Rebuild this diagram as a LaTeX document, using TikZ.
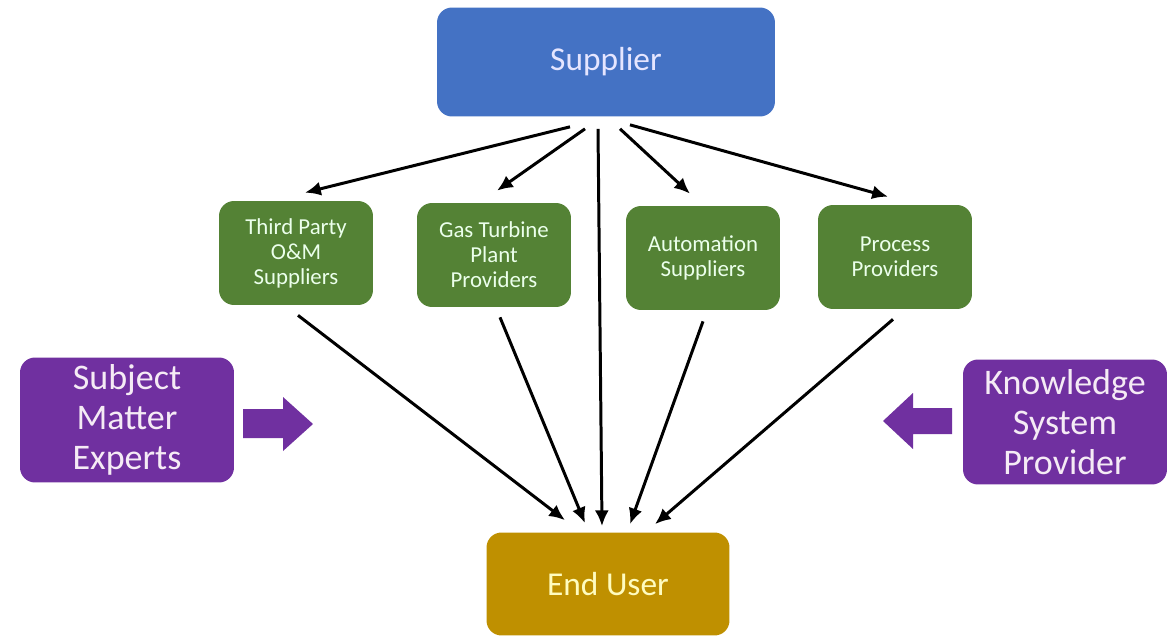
\documentclass[tikz,border=0pt]{standalone}
\usepackage{fontspec}
\setmainfont{Carlito}
\usepackage{tikz}
\usetikzlibrary{positioning}
\usetikzlibrary{arrows.meta}
\definecolor{supBlue}{HTML}{4472C4}
\definecolor{provGreen}{HTML}{548235}
\definecolor{helpPurple}{HTML}{7030A0}
\definecolor{userGold}{HTML}{BF9000}
\tikzset{
  box/.style = {rounded corners = 0.3cm, align = center, inner sep = 0pt},
  provider/.style = {box, fill = provGreen, text = green!8, minimum width = 3.08cm, minimum height = 2.08cm,
    font = \fontsize{13}{14.2}\selectfont},
  helper/.style = {box, fill = helpPurple, text = violet!8, minimum height = 2.5cm,
    font = \fontsize{20.5}{22.7}\selectfont},
  link/.style = {-{Latex[length = 9pt, width = 8pt]}, line width = 1.7pt}
}

\begin{document}
\begin{tikzpicture}[x = 0.02cm, y = -0.02cm]
                \useasboundingbox (0,0) rectangle (1167,636);
                % top and bottom
                \node [box, fill = supBlue, text = blue!10, minimum width = 6.76cm, minimum height = 2.18cm,
                  font = \fontsize{19}{22}\selectfont] (sup) at (606,62) {Supplier};
                \node [box, fill = userGold, text = yellow!25, minimum width = 4.86cm, minimum height = 2.06cm,
                  font = \fontsize{19}{22}\selectfont] (eu) at (608,584) {End User};
                % providers
                \node [provider] (tp) at (296,253) {Third Party\\O\&M\\Suppliers};
                \node [provider] (gt) at (494,255) {Gas Turbine\\Plant\\Providers};
                \node [provider] (au) at (703,258) {Automation\\Suppliers};
                \node [provider] (pp) at (895,257) {Process\\Providers};
                % side boxes
                \node [helper, minimum width = 4.28cm] (sme) at (127,420) {Subject\\Matter\\Experts};
                \node [helper, minimum width = 4.08cm] (ksp) at (1065,422) {Knowledge\\System\\Provider};
                \fill [helpPurple] (243,409) -- (283,409) -- (283,397) -- (313,424) -- (283,451) -- (283,438) -- (243,438) -- cycle;
                \fill [helpPurple] (952,408) -- (913,408) -- (913,393) -- (883,421) -- (913,449) -- (913,434) -- (952,434) -- cycle;
                % supplier to providers
                \draw [link] ([xshift = -0.72cm, yshift = -0.2cm]sup.south) -- ([xshift = 0.18cm, yshift = 0.16cm]tp.north);
                \draw [link] ([xshift = -0.42cm, yshift = -0.24cm]sup.south) -- ([xshift = 0.06cm, yshift = 0.24cm]gt.north);
                \draw [link] ([xshift = -0.16cm, yshift = -0.24cm]sup.south) -- ([xshift = -0.12cm, yshift = 0.12cm]eu.north);
                \draw [link] ([xshift = 0.28cm, yshift = -0.24cm]sup.south) -- ([xshift = -0.26cm, yshift = 0.24cm]au.north);
                \draw [link] ([xshift = 0.48cm, yshift = -0.16cm]sup.south) -- ([xshift = -0.14cm, yshift = 0.16cm]pp.north);
                % providers to end user
                \draw [link] ([xshift = 0.04cm, yshift = -0.2cm]tp.south) -- ([xshift = -0.86cm, yshift = 0.24cm]eu.north);
                \draw [link] ([xshift = 0.12cm, yshift = -0.2cm]gt.south) -- ([xshift = -0.46cm, yshift = 0.18cm]eu.north);
                \draw [link] ([yshift = -0.22cm]au.south) -- ([xshift = 0.44cm, yshift = 0.16cm]eu.north);
                \draw [link] ([xshift = -0.04cm, yshift = -0.2cm]pp.south) -- ([xshift = 0.94cm, yshift = 0.16cm]eu.north);
              \end{tikzpicture}
\end{document}
